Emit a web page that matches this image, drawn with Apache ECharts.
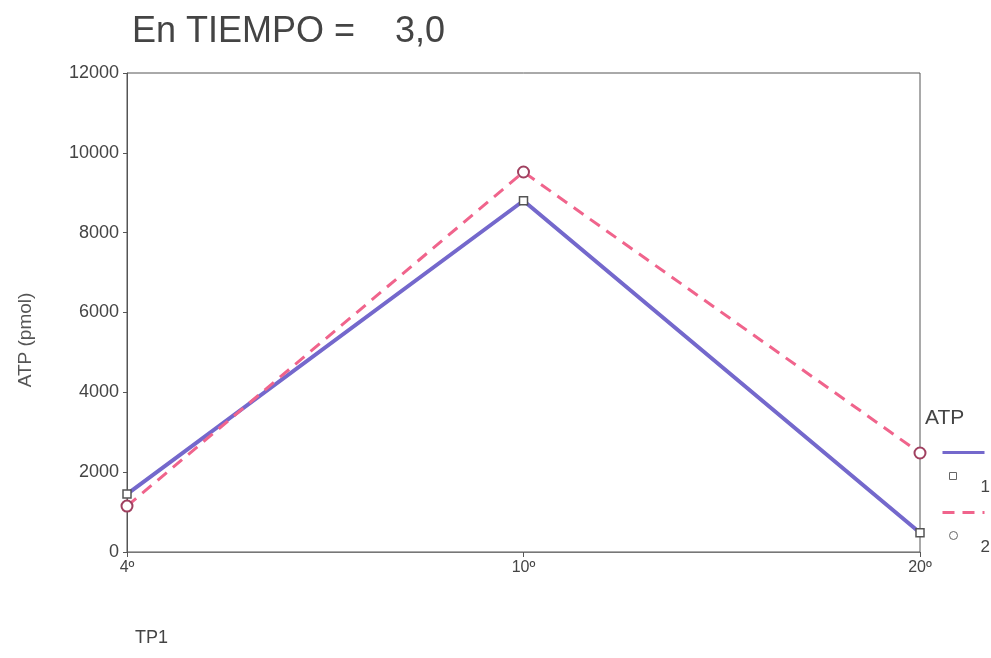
<!DOCTYPE html>
<html>
<head>
<meta charset="utf-8">
<script src="https://cdn.jsdelivr.net/npm/echarts@6/dist/echarts.min.js"></script>
<style>
  html, body { margin: 0; padding: 0; background: #fff; }
  #chart { width: 991px; height: 658px; }
</style>
</head>
<body>
<div id="chart"></div>
<script>
const categories = ['4º', '10º', '20º'];
const series1 = [1450, 8800, 480];
const series2 = [1150, 9520, 2480];
const seriesNames = ['1', '2'];

const chart = echarts.init(document.getElementById('chart'), null, { renderer: 'canvas' });

const axisColor = '#555';
const textColor = '#444';
const blue = '#7468cc';
const pink = '#f0648c';
const font = 'Liberation Sans';

// legend drawn by hand: line on top, marker + label below, like the original
function legendItem(y, color, dashed, symbolShape, label) {
  return {
    type: 'group',
    left: 940,
    top: y,
    children: [
      { type: 'line', shape: { x1: 0, y1: 0, x2: 42, y2: 0 },
        style: { stroke: color, lineWidth: 3, lineDash: dashed ? [12, 8] : null } },
      symbolShape,
      { type: 'text', x: 38, y: 26,
        style: { text: label, font: '17px ' + font, fill: textColor } }
    ]
  };
}

const option = {
  animation: false,
  title: [
    {
      text: 'En TIEMPO =    3,0',
      left: 127,
      top: 9,
      textStyle: { fontFamily: font, fontSize: 36, fontWeight: 'normal', color: '#444' }
    },
    {
      text: 'TP1',
      left: 130,
      top: 624,
      textStyle: { fontFamily: font, fontSize: 18, fontWeight: 'normal', color: textColor }
    },
    {
      text: 'ATP',
      left: 920,
      top: 403,
      textStyle: { fontFamily: font, fontSize: 21, fontWeight: 'normal', color: textColor }
    }
  ],
  graphic: [
    {
      type: 'text',
      x: 16,
      y: 340,
      rotation: Math.PI / 2,
      style: { text: 'ATP (pmol)', font: '19px ' + font, fill: '#555', textAlign: 'center', textVerticalAlign: 'top' }
    },
    legendItem(450, blue, false,
      { type: 'rect', shape: { x: 7, y: 20, width: 7, height: 7 },
        style: { fill: '#fff', stroke: '#666', lineWidth: 1 } },
      seriesNames[0]),
    legendItem(510, pink, true,
      { type: 'circle', shape: { cx: 11, cy: 23, r: 4 },
        style: { fill: '#fff', stroke: '#666', lineWidth: 1 } },
      seriesNames[1])
  ],
  grid: { left: 127, right: 71, top: 73, bottom: 106, show: true, borderColor: axisColor, borderWidth: 1 },
  xAxis: {
    type: 'category',
    boundaryGap: false,
    data: categories,
    axisLine: { lineStyle: { color: '#777' } },
    axisTick: { length: 5, lineStyle: { color: axisColor } },
    axisLabel: { fontFamily: font, fontSize: 16, color: textColor, margin: 8 },
    splitLine: { show: false }
  },
  yAxis: {
    type: 'value',
    min: 0,
    max: 12000,
    interval: 2000,
    axisLine: { show: true, lineStyle: { color: axisColor } },
    axisTick: { show: true, length: 4, lineStyle: { color: axisColor } },
    axisLabel: { fontFamily: font, fontSize: 18, color: textColor, margin: 8, formatter: v => String(v) },
    splitLine: { show: false }
  },
  series: [
    {
      name: seriesNames[0],
      type: 'line',
      data: series1,
      symbol: 'rect',
      symbolSize: 8,
      lineStyle: { color: blue, width: 4 },
      itemStyle: { color: '#fff', borderColor: '#555', borderWidth: 1.5 }
    },
    {
      name: seriesNames[1],
      type: 'line',
      data: series2,
      symbol: 'emptyCircle',
      symbolSize: 11,
      lineStyle: { color: pink, width: 3, type: [12, 8] },
      itemStyle: { color: '#a04060', borderColor: '#a04060', borderWidth: 1.5 }
    }
  ]
};

chart.setOption(option);
</script>
</body>
</html>
